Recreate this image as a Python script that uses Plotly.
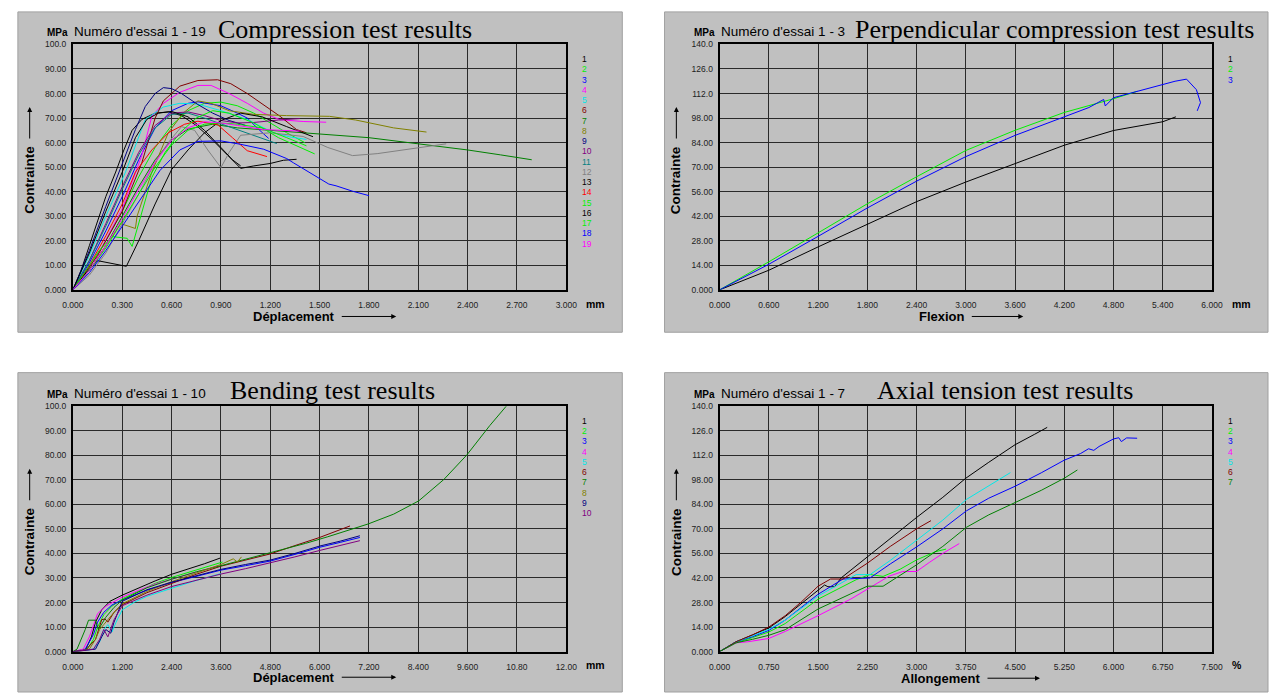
import plotly.graph_objects as go

W, H = 1279, 698

# ---------------- DATA ----------------
# Compression test (x: mm, y: MPa), tests 1-19
c01_x = [0, 0.05, 0.1, 0.15, 0.2, 0.26, 0.31, 0.36, 0.42, 0.5, 0.58, 0.66, 0.75, 0.85, 0.95, 1.02, 1.1, 1.2, 1.28, 1.36]
c01_y = [0, 8, 18, 28, 38, 48, 57, 65, 69.5, 72, 72.5, 71, 67, 61, 54, 49.5, 50.5, 51.5, 52.8, 53.2]
c02_x = [0, 0.1, 0.2, 0.3, 0.4, 0.5, 0.6, 0.7, 0.8, 0.9, 1.0, 1.1, 1.2, 1.3, 1.41]
c02_y = [0, 9, 20, 32, 46, 58, 67, 73, 76, 76.5, 75, 72, 68, 64, 60]
c03_x = [0, 0.1, 0.2, 0.3, 0.4, 0.5, 0.6, 0.7, 0.76, 0.9, 1.0, 1.06, 1.12, 1.19]
c03_y = [0, 11, 24, 38, 53, 66, 73, 76, 76.6, 75, 72, 70, 66, 61.7]
c04_x = [0, 0.15, 0.3, 0.42, 0.48, 0.55, 0.65, 0.76, 0.84, 0.95, 1.06, 1.16, 1.26, 1.4, 1.54]
c04_y = [0, 14, 33, 55, 70.7, 76, 80.5, 83.3, 83.3, 80, 76, 72, 69.3, 68.6, 68.3]
c05_x = [0, 0.1, 0.2, 0.32, 0.44, 0.55, 0.65, 0.76, 0.9, 1.06, 1.22, 1.32, 1.42]
c05_y = [0, 14, 30, 48, 69.4, 74.5, 76, 75.7, 73, 69.4, 64, 62.3, 61.3]
c06_x = [0, 0.15, 0.3, 0.42, 0.5, 0.55, 0.65, 0.76, 0.88, 0.96, 1.06, 1.16, 1.26, 1.36, 1.42]
c06_y = [0, 14, 32, 52, 70, 77, 83, 85.3, 85.6, 84, 80, 75.3, 70.7, 65.3, 64]
c07_x = [0, 0.1, 0.2, 0.3, 0.4, 0.5, 0.6, 0.7, 0.85, 1.0, 1.2, 1.5, 1.8, 2.1, 2.4, 2.6, 2.79]
c07_y = [0, 8, 18, 30, 42, 53, 61, 65.5, 67.5, 66, 65, 63.5, 62, 59.5, 57, 55, 53]
c08_x = [0, 0.1, 0.2, 0.29, 0.38, 0.39, 0.45, 0.48, 0.58, 0.67, 0.76, 0.84, 0.95, 1.1, 1.3, 1.56, 1.72, 1.95, 2.15]
c08_y = [0, 8, 18, 27, 25, 30, 42, 48, 64, 72, 77, 76, 73, 71.5, 71, 70.7, 69.2, 66, 64.3]
c09_x = [0, 0.1, 0.2, 0.28, 0.33, 0.38, 0.44, 0.5, 0.55, 0.6, 0.66, 0.76, 0.85, 0.95, 1.05]
c09_y = [0, 16, 34, 48, 57, 65.3, 74.7, 80, 82.4, 82, 80, 75.5, 72, 69, 67]
c10_x = [0, 0.1, 0.2, 0.3, 0.4, 0.5, 0.6, 0.7, 0.8, 0.9, 1.0, 1.1, 1.25, 1.38]
c10_y = [0, 12, 27, 42, 56, 67, 72, 72.5, 71, 69, 68, 68.2, 69.2, 69.8]
c11_x = [0, 0.1, 0.2, 0.3, 0.4, 0.5, 0.6, 0.7, 0.8, 0.94, 1.05, 1.15, 1.24]
c11_y = [0, 12, 26, 41, 55, 66, 71.5, 72, 70, 66.7, 64, 61.5, 59.6]
c12_x = [0, 0.1, 0.2, 0.3, 0.4, 0.5, 0.58, 0.66, 0.74, 0.82, 0.9, 0.95, 1.02, 1.2, 1.4, 1.55, 1.7, 1.85, 2.05, 2.27]
c12_y = [0, 6, 15, 27, 39, 52, 60, 66.5, 65, 57, 49.8, 56, 63, 64, 62.5, 58, 54.7, 55.5, 57.5, 59.5]
c13_x = [0, 0.08, 0.15, 0.25, 0.325, 0.4, 0.5, 0.6, 0.7, 0.8, 0.9, 1.02, 1.15, 1.3, 1.46]
c13_y = [0, 7, 11.9, 10.6, 9.6, 20, 35, 49, 57, 64, 69, 72, 70.5, 66.5, 62.4]
c14_x = [0, 0.1, 0.2, 0.3, 0.38, 0.48, 0.58, 0.68, 0.76, 0.88, 0.97, 1.06, 1.18]
c14_y = [0, 10, 22, 35, 48, 57, 64, 67.5, 68.7, 67.3, 62, 56.7, 54.3]
c15_x = [0, 0.08, 0.16, 0.24, 0.33, 0.36, 0.42, 0.48, 0.56, 0.65, 0.75, 0.85, 0.95, 1.1, 1.25, 1.38, 1.47]
c15_y = [0, 8, 16, 21.7, 21, 17.7, 32, 45.8, 56, 64, 70, 73, 72, 68, 62, 58, 55.4]
c16_x = [0, 0.1, 0.2, 0.3, 0.38, 0.45, 0.52, 0.6, 0.7, 0.8, 0.9, 0.97, 1.02]
c16_y = [0, 15, 32, 48, 62, 69.5, 72, 72.7, 70.5, 65, 58, 53, 50.5]
c17_x = [0, 0.1, 0.2, 0.3, 0.4, 0.5, 0.6, 0.7, 0.8, 0.9, 1.0, 1.15, 1.3, 1.42]
c17_y = [0, 8, 17, 28, 39, 50, 59, 65, 67.5, 68, 67.5, 66, 62, 58.7]
c18_x = [0, 0.1, 0.2, 0.3, 0.4, 0.53, 0.65, 0.76, 0.9, 1.02, 1.16, 1.3, 1.34, 1.45, 1.556, 1.6, 1.7, 1.8]
c18_y = [0, 7, 16, 26, 36, 48.7, 57, 60.5, 60.7, 59.3, 57.3, 53.5, 51.8, 47.5, 43.1, 42.4, 40.2, 38.4]
c19_x = [0, 0.1, 0.2, 0.3, 0.4, 0.5, 0.6, 0.7, 0.8, 0.9, 1.0, 1.16, 1.38]
c19_y = [0, 8, 18, 29, 41, 52, 61, 66, 68.5, 68, 67, 65.3, 64.7]

# Perpendicular compression (x: mm, y: MPa), tests 1-3
p1_x = [0, 0.6, 1.2, 1.8, 2.4, 3.0, 3.6, 4.2, 4.8, 5.1, 5.4, 5.56]
p1_y = [0, 11.2, 24.5, 37.3, 50.3, 61.5, 72.2, 82.5, 90.9, 93.5, 95.9, 98.7]
p2_x = [0, 0.3, 0.6, 1.2, 1.8, 2.4, 3.0, 3.6, 4.2, 4.8, 5.09]
p2_y = [0, 8, 16, 32.5, 49.1, 64.5, 79.5, 91, 101.2, 109, 113.3]
p3_x = [0, 0.6, 1.2, 1.8, 2.4, 3.0, 3.6, 4.2, 4.5, 4.68, 4.7, 4.8, 5.1, 5.4, 5.55, 5.69, 5.81, 5.86, 5.82]
p3_y = [0, 14.6, 30.5, 46.7, 62, 76, 88.1, 98.9, 104, 108.6, 104.9, 109.6, 113.5, 117.4, 119, 120.2, 114.2, 106.8, 102.1]

# Bending (x: mm, y: MPa), tests 1-10
b01_x = [0, 0.3, 0.45, 0.55, 0.7, 0.9, 1.2, 1.6, 2.0, 2.4, 2.8, 3.2, 3.58]
b01_y = [0, 0.5, 6, 12, 17, 20.5, 23, 26, 28.8, 31.5, 33.5, 35.8, 38.1]
b02_x = [0, 0.35, 0.5, 0.6, 0.75, 0.95, 1.2, 1.6, 2.0, 2.4, 2.8, 3.2, 3.64]
b02_y = [0, 1, 5, 10, 15, 18.5, 21.5, 24.8, 27.8, 30.2, 32.3, 34.5, 36.5]
b03_x = [0, 0.3, 0.5, 0.6, 0.75, 0.95, 1.2, 1.8, 2.4, 3.0, 3.6, 4.2, 4.8, 5.4, 6.0, 6.5, 6.98]
b03_y = [0, 1, 7, 12, 16, 19, 21, 25, 28.1, 30.7, 33.2, 35, 36.9, 39.6, 42.5, 44.5, 46.5]
b04_x = [0, 0.25, 0.4, 0.5, 0.6, 0.8, 1.0, 1.2, 1.6, 2.0, 2.4, 2.8, 3.2, 3.5]
b04_y = [0, 1, 6, 11, 15.5, 18.5, 20.5, 22.2, 25, 27.5, 29.5, 31.5, 33.5, 34.8]
b05_x = [0, 0.5, 0.65, 0.75, 0.85, 0.95, 1.05, 1.2, 1.5, 1.8, 2.4, 3.0, 3.6]
b05_y = [0, 1, 4, 9, 11, 8, 12, 17, 20.2, 22.5, 25.8, 29, 31.8]
b06_x = [0, 0.3, 0.55, 0.7, 0.78, 0.85, 1.0, 1.2, 1.8, 2.4, 3.0, 3.6, 4.2, 4.8, 5.4, 6.0, 6.74]
b06_y = [0, 0.5, 5, 13, 13.3, 12, 16, 19.1, 24, 27.8, 31.5, 34.8, 37.4, 39.8, 43.2, 46.5, 51.2]
b07_x = [0, 0.1, 0.3, 0.38, 0.55, 0.62, 0.8, 1.0, 1.2, 1.8, 2.4, 3.0, 3.6, 4.2, 4.8, 5.66, 6.2, 6.86, 7.18, 7.8, 8.41, 9.02, 9.58, 10.14, 10.54]
b07_y = [0, 1, 9, 12.8, 12.8, 9, 14, 18, 21, 26, 29.5, 32.5, 35, 37.6, 40.3, 44.1, 46.8, 50.1, 52, 56, 61.4, 70.1, 80.1, 92.1, 100]
b08_x = [0, 0.4, 0.55, 0.65, 0.75, 0.9, 1.05, 1.2, 1.8, 2.4, 3.0, 3.6, 3.9, 4.0, 4.1]
b08_y = [0, 1, 5, 9, 11, 14, 17, 19.5, 24.5, 28.5, 32, 35.5, 37.8, 36.5, 38.6]
b09_x = [0, 0.55, 0.7, 0.8, 0.92, 1.0, 1.2, 1.8, 2.4, 3.0, 3.6, 4.2, 4.8, 5.4, 6.0, 6.5, 6.98]
b09_y = [0, 1, 6, 9, 7.5, 12, 20.5, 25.2, 28.3, 31, 33.5, 35.5, 37.3, 40, 43, 45, 47.2]
b10_x = [0, 0.5, 0.65, 0.75, 0.85, 1.0, 1.2, 1.8, 2.4, 3.0, 3.6, 4.2, 4.8, 5.4, 6.0, 6.5, 6.98]
b10_y = [0, 1, 5, 9, 6, 13, 18.7, 23, 26.5, 29.2, 31.6, 33.8, 36.1, 38.6, 41.2, 43.2, 45.2]

# Axial tension (x: %, y: MPa), tests 1-7
a1_x = [0, 0.25, 0.5, 0.75, 1.0, 1.25, 1.5, 1.6, 1.65, 1.75, 1.85, 2.25, 2.6, 3.0, 3.4, 3.75, 4.1, 4.5, 4.8, 4.99]
a1_y = [0, 5.6, 9.5, 13.5, 20, 27.5, 35.5, 38, 37, 37, 42, 54, 65, 76.5, 88, 98.9, 108, 118, 124, 127.9]
a2_x = [0, 0.25, 0.5, 0.75, 1.0, 1.5, 2.08, 2.29, 2.49, 2.75, 3.0, 3.29, 3.45]
a2_y = [0, 5, 8, 11.2, 16, 29.9, 41, 44, 42.9, 47, 52.3, 57, 58.5]
a3_x = [0, 0.25, 0.5, 0.75, 1.0, 1.5, 1.88, 2.29, 2.6, 3.0, 3.4, 3.76, 4.1, 4.5, 4.9, 5.25, 5.5, 5.62, 5.7, 5.78, 6.0, 6.08, 6.12, 6.2, 6.36]
a3_y = [0, 5.6, 8.5, 12.1, 18, 32.7, 41.4, 42, 50, 59.7, 70, 80.3, 87.5, 94.3, 102, 109.2, 113, 115.7, 114.8, 117, 121.3, 122, 119.8, 121.9, 121.7]
a4_x = [0, 0.25, 0.43, 0.75, 1.0, 1.5, 2.0, 2.25, 2.58, 2.79, 3.0, 3.2, 3.4, 3.65]
a4_y = [0, 5, 5.6, 7.5, 11.5, 20.5, 30, 35.5, 43, 45.7, 45.7, 51, 56, 61.6]
a5_x = [0, 0.25, 0.5, 0.75, 1.0, 1.5, 2.08, 2.29, 2.6, 3.0, 3.4, 3.76, 4.1, 4.43]
a5_y = [0, 5.6, 9, 12.7, 18, 31.7, 43.9, 43.9, 52, 63.5, 75, 86.8, 94.5, 102.1]
a6_x = [0, 0.25, 0.5, 0.75, 1.0, 1.25, 1.5, 1.69, 1.88, 2.25, 2.6, 3.0, 3.22]
a6_y = [0, 5.6, 9.5, 14, 20.5, 28.5, 37.3, 41.4, 41.4, 50.4, 60, 70, 74.7]
a7_x = [0, 0.25, 0.5, 0.75, 1.0, 1.5, 2.0, 2.25, 2.49, 3.0, 3.4, 3.76, 4.1, 4.5, 4.9, 5.25, 5.45]
a7_y = [0, 5, 7, 9.3, 12.5, 24.3, 33, 37.3, 37.3, 49.5, 60, 70.9, 78, 85, 92, 98.9, 103.6]

# Tick labels
comp_xticks = ["0.000", "0.300", "0.600", "0.900", "1.200", "1.500", "1.800", "2.100", "2.400", "2.700", "3.000"]
perp_xticks = ["0.000", "0.600", "1.200", "1.800", "2.400", "3.000", "3.600", "4.200", "4.800", "5.400", "6.000"]
bend_xticks = ["0.000", "1.200", "2.400", "3.600", "4.800", "6.000", "7.200", "8.400", "9.600", "10.80", "12.00"]
axial_xticks = ["0.000", "0.750", "1.500", "2.250", "3.000", "3.750", "4.500", "5.250", "6.000", "6.750", "7.500"]
y100_ticks = ["0.000", "10.00", "20.00", "30.00", "40.00", "50.00", "60.00", "70.00", "80.00", "90.00", "100.0"]
y140_ticks = ["0.000", "14.00", "28.00", "42.00", "56.00", "70.00", "84.00", "98.00", "112.0", "126.0", "140.0"]

# ---------------- STYLE ----------------
BLACK, LIME, BLUE, MAGENTA, CYAN = "#000000", "#00f000", "#0000ff", "#ff00ff", "#00e8e8"
MAROON, GREEN, OLIVE, NAVY, PURPLE = "#800000", "#008000", "#808000", "#000080", "#800080"
TEAL, GRAY, RED = "#008080", "#808080", "#ff0000"
comp_colors = [BLACK, LIME, BLUE, MAGENTA, CYAN, MAROON, GREEN, OLIVE, NAVY, PURPLE,
               TEAL, GRAY, BLACK, RED, LIME, BLACK, LIME, BLUE, MAGENTA]
perp_colors = [BLACK, LIME, BLUE]
bend_colors = [BLACK, LIME, BLUE, MAGENTA, CYAN, MAROON, GREEN, OLIVE, NAVY, PURPLE]
axial_colors = [BLACK, LIME, BLUE, MAGENTA, CYAN, MAROON, GREEN]

comp_series = [(c01_x, c01_y), (c02_x, c02_y), (c03_x, c03_y), (c04_x, c04_y), (c05_x, c05_y),
               (c06_x, c06_y), (c07_x, c07_y), (c08_x, c08_y), (c09_x, c09_y), (c10_x, c10_y),
               (c11_x, c11_y), (c12_x, c12_y), (c13_x, c13_y), (c14_x, c14_y), (c15_x, c15_y),
               (c16_x, c16_y), (c17_x, c17_y), (c18_x, c18_y), (c19_x, c19_y)]
perp_series = [(p1_x, p1_y), (p2_x, p2_y), (p3_x, p3_y)]
bend_series = [(b01_x, b01_y), (b02_x, b02_y), (b03_x, b03_y), (b04_x, b04_y), (b05_x, b05_y),
               (b06_x, b06_y), (b07_x, b07_y), (b08_x, b08_y), (b09_x, b09_y), (b10_x, b10_y)]
axial_series = [(a1_x, a1_y), (a2_x, a2_y), (a3_x, a3_y), (a4_x, a4_y), (a5_x, a5_y),
                (a6_x, a6_y), (a7_x, a7_y)]

def fx(px):
    return px / W

def fy(py):
    return 1 - py / H

panels = [
    dict(n="", series=comp_series, colors=comp_colors, xpx=(63, 565), ypx=(40, 289),
         xmax=3.0, ymax=100, xt=comp_xticks, yt=y100_ticks, unit="mm",
         title="Compression test results", tcx=340, tcy=25, essai="Numéro d'essai 1 - 19",
         xlabel="Déplacement", xl_cx=288, xl_cy=316, arrow=(336, 392),
         leg_x=582, leg_y=55, panel=(7, 7, 622, 332)),
    dict(n="2", series=perp_series, colors=perp_colors, xpx=(721, 1222), ypx=(40, 289),
         xmax=6.0, ymax=140, xt=perp_xticks, yt=y140_ticks, unit="mm",
         title="Perpendicular compression test results", tcx=1062, tcy=25, essai="Numéro d'essai 1 - 3",
         xlabel="Flexion", xl_cx=947, xl_cy=316, arrow=(977, 1030),
         leg_x=1239, leg_y=55, panel=(665, 7, 1279, 332)),
    dict(n="3", series=bend_series, colors=bend_colors, xpx=(63, 565), ypx=(407, 656),
         xmax=12.0, ymax=100, xt=bend_xticks, yt=y100_ticks, unit="mm",
         title="Bending test results", tcx=327, tcy=391, essai="Numéro d'essai 1 - 10",
         xlabel="Déplacement", xl_cx=288, xl_cy=682, arrow=(336, 392),
         leg_x=582, leg_y=422, panel=(7, 373, 622, 697)),
    dict(n="4", series=axial_series, colors=axial_colors, xpx=(721, 1222), ypx=(407, 656),
         xmax=7.5, ymax=140, xt=axial_xticks, yt=y140_ticks, unit="%",
         title="Axial tension test results", tcx=1011, tcy=391, essai="Numéro d'essai 1 - 7",
         xlabel="Allongement", xl_cx=946, xl_cy=683, arrow=(993, 1047),
         leg_x=1239, leg_y=422, panel=(665, 373, 1279, 697)),
]

fig = go.Figure()
layout = dict(width=W, height=H, margin=dict(l=0, r=0, t=0, b=0),
              paper_bgcolor="white", plot_bgcolor="#c0c0c0", showlegend=False)
shapes, annotations = [], []
SANS = "Liberation Sans, Arial, sans-serif"
tickfont = dict(family=SANS, size=8.5, color="#202020")

for p in panels:
    n = p["n"]
    xa, ya = "x" + n, "y" + n
    for (xs, ys), col in zip(p["series"], p["colors"]):
        fig.add_trace(go.Scatter(x=xs, y=ys, mode="lines", xaxis=xa, yaxis=ya,
                                 line=dict(color=col, width=1), hoverinfo="skip"))
    xvals = [p["xmax"] * i / 10 for i in range(11)]
    yvals = [p["ymax"] * i / 10 for i in range(11)]
    x0, x1 = p["xpx"]
    y0, y1 = p["ypx"]
    layout["xaxis" + n] = dict(domain=[fx(x0), fx(x1)], range=[0, p["xmax"]], anchor=ya,
                               tickvals=xvals, ticktext=p["xt"], tickfont=tickfont,
                               showgrid=True, gridcolor="#2a2a2a", gridwidth=1,
                               showline=True, linecolor="black", linewidth=2, mirror=True,
                               zeroline=False, ticks="", ticklabelstandoff=6, fixedrange=True)
    layout["yaxis" + n] = dict(domain=[fy(y1), fy(y0)], range=[0, p["ymax"]], anchor=xa,
                               tickvals=yvals, ticktext=p["yt"], tickfont=tickfont,
                               showgrid=True, gridcolor="#2a2a2a", gridwidth=1,
                               showline=True, linecolor="black", linewidth=2, mirror=True,
                               zeroline=False, ticks="", ticklabelstandoff=3, fixedrange=True)
    px0, py0, px1, py1 = p["panel"]
    shapes.append(dict(type="rect", xref="paper", yref="paper", layer="below",
                       x0=fx(px0), x1=fx(px1), y0=fy(py1), y1=fy(py0),
                       fillcolor="#c0c0c0", line=dict(color="#a0a0a0", width=1)))
    # Title
    annotations.append(dict(text=p["title"], xref="paper", yref="paper", x=fx(p["tcx"]), y=fy(p["tcy"]),
                            xanchor="center", yanchor="middle", showarrow=False,
                            font=dict(family="Liberation Serif, Times New Roman, serif", size=26, color="black")))
    # MPa + essai
    hy = p["ypx"][0] - 13
    annotations.append(dict(text="<b>MPa</b>", xref="paper", yref="paper", x=fx(x0 - 3), y=fy(hy + 1),
                            xanchor="right", yanchor="middle", showarrow=False,
                            font=dict(family=SANS, size=10, color="black")))
    annotations.append(dict(text=p["essai"], xref="paper", yref="paper", x=fx(x0 - 1), y=fy(hy),
                            xanchor="left", yanchor="middle", showarrow=False,
                            font=dict(family=SANS, size=13.5, color="black")))
    # unit
    annotations.append(dict(text="<b>" + p["unit"] + "</b>", xref="paper", yref="paper",
                            x=fx(x1 + 18), y=fy(y1 + 14), xanchor="left", yanchor="middle", showarrow=False,
                            font=dict(family=SANS, size=10.5, color="black")))
    # x label + arrow
    annotations.append(dict(text="<b>" + p["xlabel"] + "</b>", xref="paper", yref="paper",
                            x=fx(p["xl_cx"]), y=fy(p["xl_cy"]), xanchor="center", yanchor="middle",
                            showarrow=False, font=dict(family=SANS, size=13, color="black")))
    a0, a1 = p["arrow"]
    annotations.append(dict(text="", xref="paper", yref="paper", x=fx(a1), y=fy(p["xl_cy"]),
                            ax=-(a1 - a0), ay=0, showarrow=True, arrowhead=2, arrowsize=1,
                            arrowwidth=1, arrowcolor="black"))
    # y label + arrow
    ycx = x0 - 44
    ycy = (y0 + y1) / 2 + 13
    annotations.append(dict(text="<b>Contrainte</b>", xref="paper", yref="paper", x=fx(ycx), y=fy(ycy),
                            xanchor="center", yanchor="middle", textangle=-90, showarrow=False,
                            font=dict(family=SANS, size=13.5, color="black")))
    annotations.append(dict(text="", xref="paper", yref="paper", x=fx(ycx), y=fy(ycy - 74),
                            ax=0, ay=33, showarrow=True, arrowhead=2, arrowsize=1,
                            arrowwidth=1, arrowcolor="black"))
    # legend numbers
    for i, col in enumerate(p["colors"]):
        annotations.append(dict(text=str(i + 1), xref="paper", yref="paper",
                                x=fx(p["leg_x"] - 3), y=fy(p["leg_y"] + i * 10.4),
                                xanchor="left", yanchor="middle", showarrow=False,
                                font=dict(family=SANS, size=8.5, color=col)))

layout["shapes"] = shapes
layout["annotations"] = annotations
fig.update_layout(**layout)
fig.write_html("out.html", config={"displayModeBar": False},
               post_script="document.body.style.margin='0';document.body.style.overflow='hidden';")
